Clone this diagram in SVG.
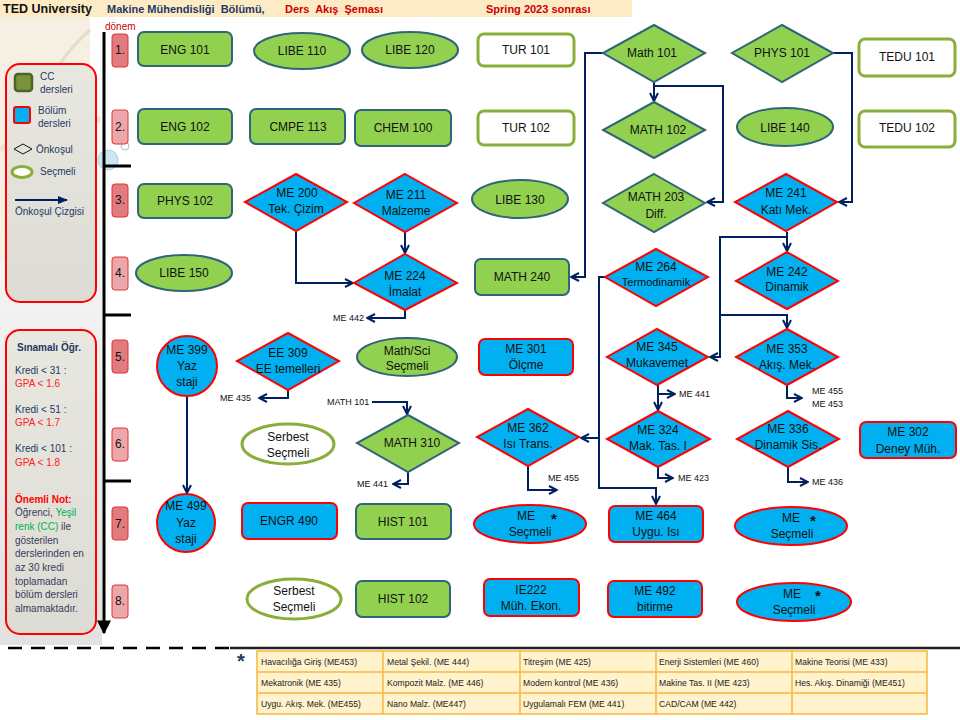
<svg xmlns="http://www.w3.org/2000/svg" width="960" height="720" viewBox="0 0 960 720">
<defs>
<style>
.t{font-family:"Liberation Sans",Arial,sans-serif;font-size:12px;fill:#111;text-anchor:middle;dominant-baseline:central}
.ast{font-family:"Liberation Sans",Arial,sans-serif;font-size:15px;font-weight:bold;fill:#111;text-anchor:middle;dominant-baseline:central}
.s{font-family:"Liberation Sans",Arial,sans-serif;font-size:9px;fill:#111;dominant-baseline:central}
.lg{font-family:"Liberation Sans",Arial,sans-serif;font-size:10px;fill:#1F3864}
.nt{font-family:"Liberation Sans",Arial,sans-serif;font-size:10px;fill:#3A3A5A}
.nb{fill:#1F3864}
.nr{fill:#FF2020}
.ng{fill:#00B050}
.tb{font-family:"Liberation Sans",Arial,sans-serif;font-size:8.6px;fill:#222}
.cc{fill:#92D050;stroke:#2F6479;stroke-width:2}
.me{fill:#00B0F0;stroke:#FF0000;stroke-width:2}
.wt{fill:#fff;stroke:#8AAE3A;stroke-width:3}
.sem1{fill:#E07C80;stroke:#E53030;stroke-width:1}
.sem2{fill:#EBA8AB;stroke:#E53030;stroke-width:1}
.c{fill:none;stroke:#002060;stroke-width:2}
</style>
<marker id="ah" viewBox="0 0 10 10" refX="9" refY="5" markerWidth="10" markerHeight="10" markerUnits="userSpaceOnUse" orient="auto"><path d="M1,1 L9,5 L1,9" fill="none" stroke="#002060" stroke-width="2"/></marker>
<marker id="af" viewBox="0 0 10 10" refX="9" refY="5" markerWidth="10" markerHeight="10" markerUnits="userSpaceOnUse" orient="auto"><path d="M0,1 L10,5 L0,9 Z" fill="#002060"/></marker>
<marker id="bk" viewBox="0 0 10 10" refX="5" refY="9" markerWidth="14" markerHeight="14" markerUnits="userSpaceOnUse" orient="0"><path d="M0,0 L10,0 L5,10 Z" fill="#000"/></marker>
<linearGradient id="lg1" x1="0" y1="0" x2="0" y2="1"><stop offset="0" stop-color="#FFFFFF"/><stop offset="1" stop-color="#E2E2E2"/></linearGradient>
<linearGradient id="lg2" x1="0" y1="0" x2="0" y2="1"><stop offset="0" stop-color="#E8E8E0"/><stop offset="1" stop-color="#DCDCD4"/></linearGradient>
</defs>
<rect width="960" height="720" fill="#fff"/>
<!-- left background -->
<rect x="0" y="17" width="102" height="628" fill="url(#lg1)"/>
<rect x="0" y="17" width="90" height="245" fill="#F6F0E4"/>
<path d="M10,240 Q20,90 90,30" fill="none" stroke="#E6DCC8" stroke-width="3"/>
<path d="M0,150 Q50,110 100,120" fill="none" stroke="#EDE3D0" stroke-width="6"/>
<circle cx="108" cy="160" r="10" fill="#CDE6F2" stroke="#A9CFE2" stroke-width="1"/>
<circle cx="125" cy="146" r="4" fill="#fff" stroke="#9CC6DC" stroke-width="1"/>
<!-- header -->
<rect x="0" y="0" width="632" height="17" fill="#FDEBC6"/>
<text x="3" y="13" font-family="Liberation Sans,Arial,sans-serif" font-size="12.5" font-weight="bold" fill="#111">TED University</text>
<text x="107" y="13" font-family="Liberation Sans,Arial,sans-serif" font-size="11" font-weight="bold" fill="#1F3864" xml:space="preserve">Makine Mühendisliği  Bölümü,</text>
<text x="285" y="13" font-family="Liberation Sans,Arial,sans-serif" font-size="11" font-weight="bold" fill="#CC0000" xml:space="preserve">Ders  Akış  Şeması</text>
<text x="486" y="13" font-family="Liberation Sans,Arial,sans-serif" font-size="11" font-weight="bold" fill="#CC0000">Spring 2023 sonrası</text>
<text x="105" y="30" font-family="Liberation Sans,Arial,sans-serif" font-size="10" fill="#CC0000">dönem</text>
<!-- legend box -->
<g id="legend">
<rect x="6" y="64" width="90" height="238" rx="14" fill="url(#lg2)" stroke="#FF0000" stroke-width="2"/>
<rect x="15" y="74" width="17" height="17" rx="3" fill="#77933C" stroke="#4F6228" stroke-width="2.5"/>
<text x="40" y="80" class="lg">CC</text>
<text x="40" y="93" class="lg">dersleri</text>
<rect x="14" y="107" width="16" height="16" rx="2" fill="#00B0F0" stroke="#FF0000" stroke-width="2"/>
<text x="38" y="114" class="lg">Bölüm</text>
<text x="38" y="127" class="lg">dersleri</text>
<path d="M14,149 L23,144 L32,149 L23,154 Z" fill="none" stroke="#111" stroke-width="1"/>
<text x="36" y="153" class="lg">Önkoşul</text>
<ellipse cx="22" cy="172" rx="10" ry="5.5" fill="#fff" stroke="#8AAE3A" stroke-width="3"/>
<text x="40" y="175" class="lg">Seçmeli</text>
<line x1="15" y1="200" x2="67" y2="200" stroke="#002060" stroke-width="2" marker-end="url(#af)"/>
<text x="15" y="215" class="lg">Önkoşul Çizgisi</text>
</g>
<!-- note box -->
<g id="note">
<rect x="6" y="330" width="90" height="304" rx="14" fill="url(#lg2)" stroke="#FF0000" stroke-width="2"/>
<text x="17" y="351" class="nt nb" font-weight="bold">Sınamalı Öğr.</text>
<text x="15" y="374" class="nt nb">Kredi &lt; 31 :</text>
<text x="15" y="387" class="nt nr">GPA &lt; 1.6</text>
<text x="15" y="413" class="nt nb">Kredi &lt; 51 :</text>
<text x="15" y="426" class="nt nr">GPA &lt; 1.7</text>
<text x="15" y="452" class="nt nb">Kredi &lt; 101 :</text>
<text x="15" y="466" class="nt nr">GPA &lt; 1.8</text>
<text x="15" y="503" class="nt" font-weight="bold" style="fill:#FF0000">Önemli Not:</text>
<text x="15" y="516" class="nt">Öğrenci, <tspan class="ng">Yeşil</tspan></text>
<text x="15" y="530" class="nt"><tspan class="ng">renk (CC)</tspan> ile</text>
<text x="15" y="544" class="nt">gösterilen</text>
<text x="15" y="557" class="nt">derslerinden en</text>
<text x="15" y="571" class="nt">az 30 kredi</text>
<text x="15" y="585" class="nt">toplamadan</text>
<text x="15" y="598" class="nt">bölüm dersleri</text>
<text x="15" y="612" class="nt">almamaktadır.</text>
</g>
<!-- timeline -->
<g id="timeline">
<line x1="104" y1="32" x2="104" y2="633" stroke="#000" stroke-width="3" marker-end="url(#bk)"/>
<line x1="104" y1="166" x2="131" y2="166" stroke="#000" stroke-width="3"/>
<line x1="104" y1="315" x2="131" y2="315" stroke="#000" stroke-width="3"/>
<line x1="104" y1="481" x2="131" y2="481" stroke="#000" stroke-width="3"/>
<line x1="8" y1="648" x2="230" y2="648" stroke="#000" stroke-width="2.5" stroke-dasharray="14 9"/>
<line x1="230" y1="648" x2="960" y2="648" stroke="#222" stroke-width="2.5"/>
<rect x="112" y="34" width="16" height="33" rx="3" class="sem1"/><text x="120" y="50" class="t">1.</text>
<rect x="112" y="110" width="16" height="34" rx="3" class="sem2"/><text x="120" y="127" class="t">2.</text>
<rect x="112" y="184" width="16" height="33" rx="3" class="sem1"/><text x="120" y="200" class="t">3.</text>
<rect x="112" y="257" width="16" height="33" rx="3" class="sem2"/><text x="120" y="273" class="t">4.</text>
<rect x="112" y="340" width="16" height="33" rx="3" class="sem1"/><text x="120" y="357" class="t">5.</text>
<rect x="112" y="428" width="16" height="33" rx="3" class="sem2"/><text x="120" y="444" class="t">6.</text>
<rect x="112" y="507" width="16" height="33" rx="3" class="sem1"/><text x="120" y="524" class="t">7.</text>
<rect x="112" y="585" width="16" height="33" rx="3" class="sem2"/><text x="120" y="601" class="t">8.</text>
</g>
<!-- connectors -->
<g id="connectors">
<path class="c" d="M603,53 H585 V277 H571" marker-end="url(#ah)"/>
<path class="c" d="M654,82 V101" marker-end="url(#ah)"/>
<path class="c" d="M654,86 H723 V202 H707" marker-end="url(#ah)"/>
<path class="c" d="M833,53 H852 V202 H839" marker-end="url(#ah)"/>
<path class="c" d="M787,232 V251" marker-end="url(#ah)"/>
<path class="c" d="M787,237 H720 V357 H710" marker-end="url(#ah)"/>
<path class="c" d="M720,315 H787 V328" marker-end="url(#ah)"/>
<path class="c" d="M605,277 H599 V488 H656 V504" marker-end="url(#ah)"/>
<path class="c" d="M599,438 H581" marker-end="url(#ah)"/>
<path class="c" d="M658,385 V410" marker-end="url(#ah)"/>
<path class="c" d="M658,394 H675" marker-end="url(#ah)"/>
<path class="c" d="M658,467 V478 H673" marker-end="url(#ah)"/>
<path class="c" d="M787,385 V398 H802" marker-end="url(#ah)"/>
<path class="c" d="M788,467 V482 H808" marker-end="url(#ah)"/>
<path class="c" d="M296,231 V283 H353" marker-end="url(#ah)"/>
<path class="c" d="M405,232 V253" marker-end="url(#ah)"/>
<path class="c" d="M405,310 V318 H367" marker-end="url(#ah)"/>
<path class="c" d="M288,390 V398 H259" marker-end="url(#ah)"/>
<path class="c" d="M372,402 H407 V414" marker-end="url(#ah)"/>
<path class="c" d="M408,472 V484 H393" marker-end="url(#ah)"/>
<path class="c" d="M528,466 V490 H557" marker-end="url(#ah)"/>
<path class="c" d="M187,397 V493" marker-end="url(#ah)"/>
<text x="679" y="394" class="s">ME 441</text>
<text x="678" y="478" class="s">ME 423</text>
<text x="812" y="391" class="s">ME 455</text>
<text x="812" y="404" class="s">ME 453</text>
<text x="812" y="482" class="s">ME 436</text>
<text x="333" y="318" class="s">ME 442</text>
<text x="220" y="398" class="s">ME 435</text>
<text x="327" y="402" class="s">MATH 101</text>
<text x="357" y="484" class="s">ME 441</text>
<text x="548" y="478" class="s">ME 455</text>
</g>
<!-- row 1 -->
<g id="eng101"><rect x="138" y="32" width="94" height="34" rx="6" class="cc"/><text x="185" y="50" class="t">ENG 101</text></g>
<g id="libe110"><ellipse cx="302" cy="51" rx="48" ry="18" class="cc"/><text x="302" y="51" class="t">LIBE 110</text></g>
<g id="libe120"><ellipse cx="410" cy="50" rx="48" ry="18" class="cc"/><text x="410" y="50" class="t">LIBE 120</text></g>
<g id="tur101"><rect x="478" y="34" width="96" height="32" rx="6" class="wt"/><text x="526" y="50" class="t">TUR 101</text></g>
<g id="math101"><path d="M654,25 L705,53 L654,82 L603,53 Z" class="cc"/><text x="652" y="53" class="t">Math 101</text></g>
<g id="phys101"><path d="M782,25 L833,53 L782,82 L732,53 Z" class="cc"/><text x="782" y="53" class="t">PHYS 101</text></g>
<g id="tedu101"><rect x="859" y="39" width="96" height="37" rx="6" class="wt"/><text x="907" y="57" class="t">TEDU 101</text></g>
<!-- row 2 -->
<g id="eng102"><rect x="138" y="109" width="94" height="35" rx="6" class="cc"/><text x="185" y="127" class="t">ENG 102</text></g>
<g id="cmpe113"><rect x="250" y="109" width="95" height="35" rx="6" class="cc"/><text x="298" y="127" class="t">CMPE 113</text></g>
<g id="chem100"><rect x="355" y="110" width="96" height="36" rx="6" class="cc"/><text x="403" y="128" class="t">CHEM 100</text></g>
<g id="tur102"><rect x="478" y="111" width="96" height="34" rx="6" class="wt"/><text x="526" y="128" class="t">TUR 102</text></g>
<g id="math102"><path d="M654,102 L705,130 L654,158 L603,130 Z" class="cc"/><text x="658" y="130" class="t">MATH 102</text></g>
<g id="libe140"><ellipse cx="785" cy="127" rx="48" ry="19" class="cc"/><text x="785" y="128" class="t">LIBE 140</text></g>
<g id="tedu102"><rect x="859" y="111" width="96" height="36" rx="6" class="wt"/><text x="907" y="128" class="t">TEDU 102</text></g>
<!-- row 3 -->
<g id="phys102"><rect x="138" y="184" width="94" height="34" rx="6" class="cc"/><text x="185" y="201" class="t">PHYS 102</text></g>
<g id="me200"><path d="M296,174 L347,202 L296,231 L245,202 Z" class="me"/><text x="297" y="193" class="t">ME 200</text><text x="296" y="209" class="t">Tek. Çizim</text></g>
<g id="me211"><path d="M405,174 L457,203 L405,232 L354,203 Z" class="me"/><text x="406" y="195" class="t">ME 211</text><text x="406" y="211" class="t">Malzeme</text></g>
<g id="libe130"><ellipse cx="520" cy="199" rx="48" ry="19" class="cc"/><text x="520" y="200" class="t">LIBE 130</text></g>
<g id="math203"><path d="M654,174 L705,203 L654,232 L603,203 Z" class="cc"/><text x="656" y="197" class="t">MATH 203</text><text x="656" y="214" class="t">Diff.</text></g>
<g id="me241"><path d="M786,174 L837,202 L786,231 L735,202 Z" class="me"/><text x="786" y="193" class="t">ME 241</text><text x="786" y="210" class="t">Katı Mek.</text></g>
<!-- row 4 -->
<g id="libe150"><ellipse cx="184" cy="273" rx="48" ry="18" class="cc"/><text x="184" y="273" class="t">LIBE 150</text></g>
<g id="me224"><path d="M405,254 L457,283 L405,310 L354,283 Z" class="me"/><text x="405" y="276" class="t">ME 224</text><text x="405" y="292" class="t">İmalat</text></g>
<g id="math240"><rect x="475" y="259" width="94" height="36" rx="6" class="cc"/><text x="522" y="277" class="t">MATH 240</text></g>
<g id="me264"><path d="M656,249 L708,277 L656,306 L605,277 Z" class="me"/><text x="656" y="267" class="t">ME 264</text><text x="656" y="282" class="t" style="font-size:11px">Termodinamik</text></g>
<g id="me242"><path d="M787,252 L838,281 L787,309 L736,281 Z" class="me"/><text x="787" y="272" class="t">ME 242</text><text x="787" y="287" class="t">Dinamik</text></g>
<!-- row 5 -->
<g id="me399"><circle cx="187" cy="366" r="30" class="me"/><text x="187" y="350" class="t">ME 399</text><text x="187" y="366" class="t">Yaz</text><text x="187" y="382" class="t">staji</text></g>
<g id="ee309"><path d="M288,333 L339,361 L288,390 L237,361 Z" class="me"/><text x="288" y="353" class="t">EE 309</text><text x="288" y="369" class="t">EE temelleri</text></g>
<g id="mathsci"><ellipse cx="407" cy="357" rx="50" ry="19" class="cc"/><text x="407" y="351" class="t">Math/Sci</text><text x="407" y="366" class="t">Seçmeli</text></g>
<g id="me301"><rect x="479" y="339" width="94" height="36" rx="6" class="me"/><text x="526" y="349" class="t">ME 301</text><text x="526" y="365" class="t">Ölçme</text></g>
<g id="me345"><path d="M657,329 L708,357 L657,385 L607,357 Z" class="me"/><text x="657" y="347" class="t">ME 345</text><text x="657" y="363" class="t">Mukavemet</text></g>
<g id="me353"><path d="M787,329 L838,357 L787,385 L736,357 Z" class="me"/><text x="787" y="349" class="t">ME 353</text><text x="787" y="365" class="t">Akış. Mek.</text></g>
<!-- row 6 -->
<g id="serbest1"><ellipse cx="288" cy="444" rx="46" ry="20" class="wt"/><text x="288" y="437" class="t">Serbest</text><text x="288" y="453" class="t">Seçmeli</text></g>
<g id="math310"><path d="M408,415 L459,443 L408,472 L357,443 Z" class="cc"/><text x="412" y="443" class="t">MATH 310</text></g>
<g id="me362"><path d="M528,409 L579,437 L528,466 L477,437 Z" class="me"/><text x="528" y="428" class="t">ME 362</text><text x="528" y="444" class="t">Isı Trans.</text></g>
<g id="me324"><path d="M658,411 L710,439 L658,467 L607,439 Z" class="me"/><text x="658" y="430" class="t">ME 324</text><text x="658" y="446" class="t">Mak. Tas. I</text></g>
<g id="me336"><path d="M788,411 L839,439 L788,467 L737,439 Z" class="me"/><text x="788" y="429" class="t">ME 336</text><text x="788" y="445" class="t">Dinamik Sis.</text></g>
<g id="me302"><rect x="860" y="422" width="96" height="36" rx="6" class="me"/><text x="908" y="432" class="t">ME 302</text><text x="908" y="449" class="t">Deney Müh.</text></g>
<!-- row 7 -->
<g id="me499"><circle cx="186" cy="523" r="29" class="me"/><text x="186" y="506" class="t">ME 499</text><text x="186" y="523" class="t">Yaz</text><text x="186" y="539" class="t">staji</text></g>
<g id="engr490"><rect x="242" y="503" width="95" height="36" rx="6" class="me"/><text x="289" y="521" class="t">ENGR 490</text></g>
<g id="hist101"><rect x="356" y="504" width="95" height="35" rx="6" class="cc"/><text x="403" y="522" class="t">HIST 101</text></g>
<g id="mesec1"><ellipse cx="530" cy="524" rx="56" ry="19" class="me"/><text x="526" y="516" class="t">ME</text><text x="554" y="518" class="ast">*</text><text x="530" y="532" class="t">Seçmeli</text></g>
<g id="me464"><rect x="609" y="506" width="94" height="36" rx="6" class="me"/><text x="656" y="516" class="t">ME 464</text><text x="656" y="532" class="t">Uygu.  Isı</text></g>
<g id="mesec2"><ellipse cx="791" cy="526" rx="56" ry="19" class="me"/><text x="791" y="518" class="t">ME</text><text x="813" y="520" class="ast">*</text><text x="792" y="534" class="t">Seçmeli</text></g>
<!-- row 8 -->
<g id="serbest2"><ellipse cx="294" cy="599" rx="47" ry="20" class="wt"/><text x="294" y="591" class="t">Serbest</text><text x="294" y="607" class="t">Seçmeli</text></g>
<g id="hist102"><rect x="356" y="581" width="94" height="36" rx="6" class="cc"/><text x="403" y="599" class="t">HIST 102</text></g>
<g id="ie222"><rect x="484" y="579" width="95" height="37" rx="6" class="me"/><text x="531" y="590" class="t">IE222</text><text x="531" y="606" class="t">Müh. Ekon.</text></g>
<g id="me492"><rect x="608" y="581" width="94" height="36" rx="6" class="me"/><text x="655" y="591" class="t">ME 492</text><text x="655" y="607" class="t">bitirme</text></g>
<g id="mesec3"><ellipse cx="794" cy="602" rx="57" ry="19" class="me"/><text x="792" y="594" class="t">ME</text><text x="818" y="595" class="ast">*</text><text x="794" y="610" class="t">Seçmeli</text></g>
<!-- table -->
<g id="table">
<text x="241" y="668" font-family="Liberation Sans,Arial,sans-serif" font-size="20" font-weight="bold" fill="#1F3864" text-anchor="middle">*</text>
<rect x="257" y="651" width="670" height="63" fill="#FFF2CC" stroke="#F5B942" stroke-width="1.5"/>
<path d="M257,672 H927 M257,693 H927 M383,651 V714 M520,651 V714 M656,651 V714 M792,651 V714" stroke="#F5B942" stroke-width="1.5" fill="none"/>
<text x="261" y="665" class="tb">Havacılığa Giriş (ME453)</text>
<text x="387" y="665" class="tb">Metal Şekil. (ME 444)</text>
<text x="523" y="665" class="tb">Titreşim (ME 425)</text>
<text x="659" y="665" class="tb">Enerji Sistemleri (ME 460)</text>
<text x="795" y="665" class="tb">Makine Teorisi (ME 433)</text>
<text x="261" y="686" class="tb">Mekatronik (ME 435)</text>
<text x="387" y="686" class="tb">Kompozit Malz. (ME 446)</text>
<text x="523" y="686" class="tb">Modern kontrol (ME 436)</text>
<text x="659" y="686" class="tb">Makine Tas. II (ME 423)</text>
<text x="795" y="686" class="tb">Hes. Akış. Dinamiği (ME451)</text>
<text x="261" y="707" class="tb">Uygu. Akış. Mek. (ME455)</text>
<text x="387" y="707" class="tb">Nano Malz. (ME447)</text>
<text x="523" y="707" class="tb">Uygulamalı FEM (ME 441)</text>
<text x="659" y="707" class="tb">CAD/CAM (ME 442)</text>
</g>
</svg>
